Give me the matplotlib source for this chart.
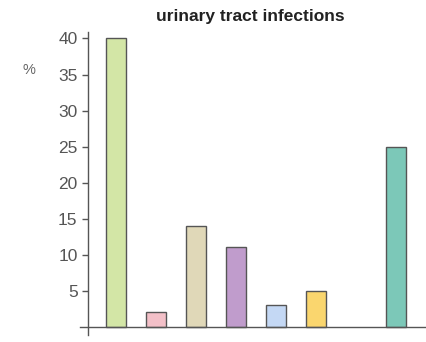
import numpy as np
import matplotlib.pyplot as plt

# Share of cases (%), one bar per group; slot 6 is left empty
positions = [0, 1, 2, 3, 4, 5, 7]
values = [40, 2, 14, 11, 3, 5, 25]
colors = ["#d3e6a6", "#f3c0c8", "#e0d8b8", "#c09ccc", "#c4d8f4", "#fad66e", "#7cc8b8"]
yticks = [5, 10, 15, 20, 25, 30, 35, 40]

plt.rcParams['font.family'] = ['Liberation Sans', 'DejaVu Sans']

fig = plt.figure(figsize=(4.27, 3.42), dpi=100)
ax = fig.add_axes([80 / 427, 7 / 342, 347 / 427, 303 / 342])

ax.bar(positions, values, width=0.52, color=colors,
       edgecolor="#555555", linewidth=1.0, zorder=2)

ax.set_xlim(-0.9, 7.775)
ax.set_ylim(-1.15, 40.9)

# axes cross just left of the first bar, like a hand-drawn frame
ax.spines['left'].set_position(('data', -0.7))
ax.spines['bottom'].set_position(('data', 0))
for side in ('top', 'right'):
    ax.spines[side].set_visible(False)
for side in ('left', 'bottom'):
    ax.spines[side].set_color("#555555")
    ax.spines[side].set_linewidth(1.0)

ax.set_xticks([])
ax.set_yticks(yticks)
ax.set_yticklabels([str(v) for v in yticks])
ax.tick_params(axis='y', direction='out', length=4.5, width=1.0,
               color="#555555", labelcolor="#555555", labelsize=12.5, pad=3)

fig.text(250 / 427, 1 - 17 / 342, "urinary tract infections",
         ha="center", va="center", fontsize=12.5, fontweight="bold", color="#222222")
fig.text(29 / 427, 1 - 70 / 342, "%", ha="center", va="center",
         fontsize=10.5, color="#666666")

fig.savefig("out.png", dpi=100)
